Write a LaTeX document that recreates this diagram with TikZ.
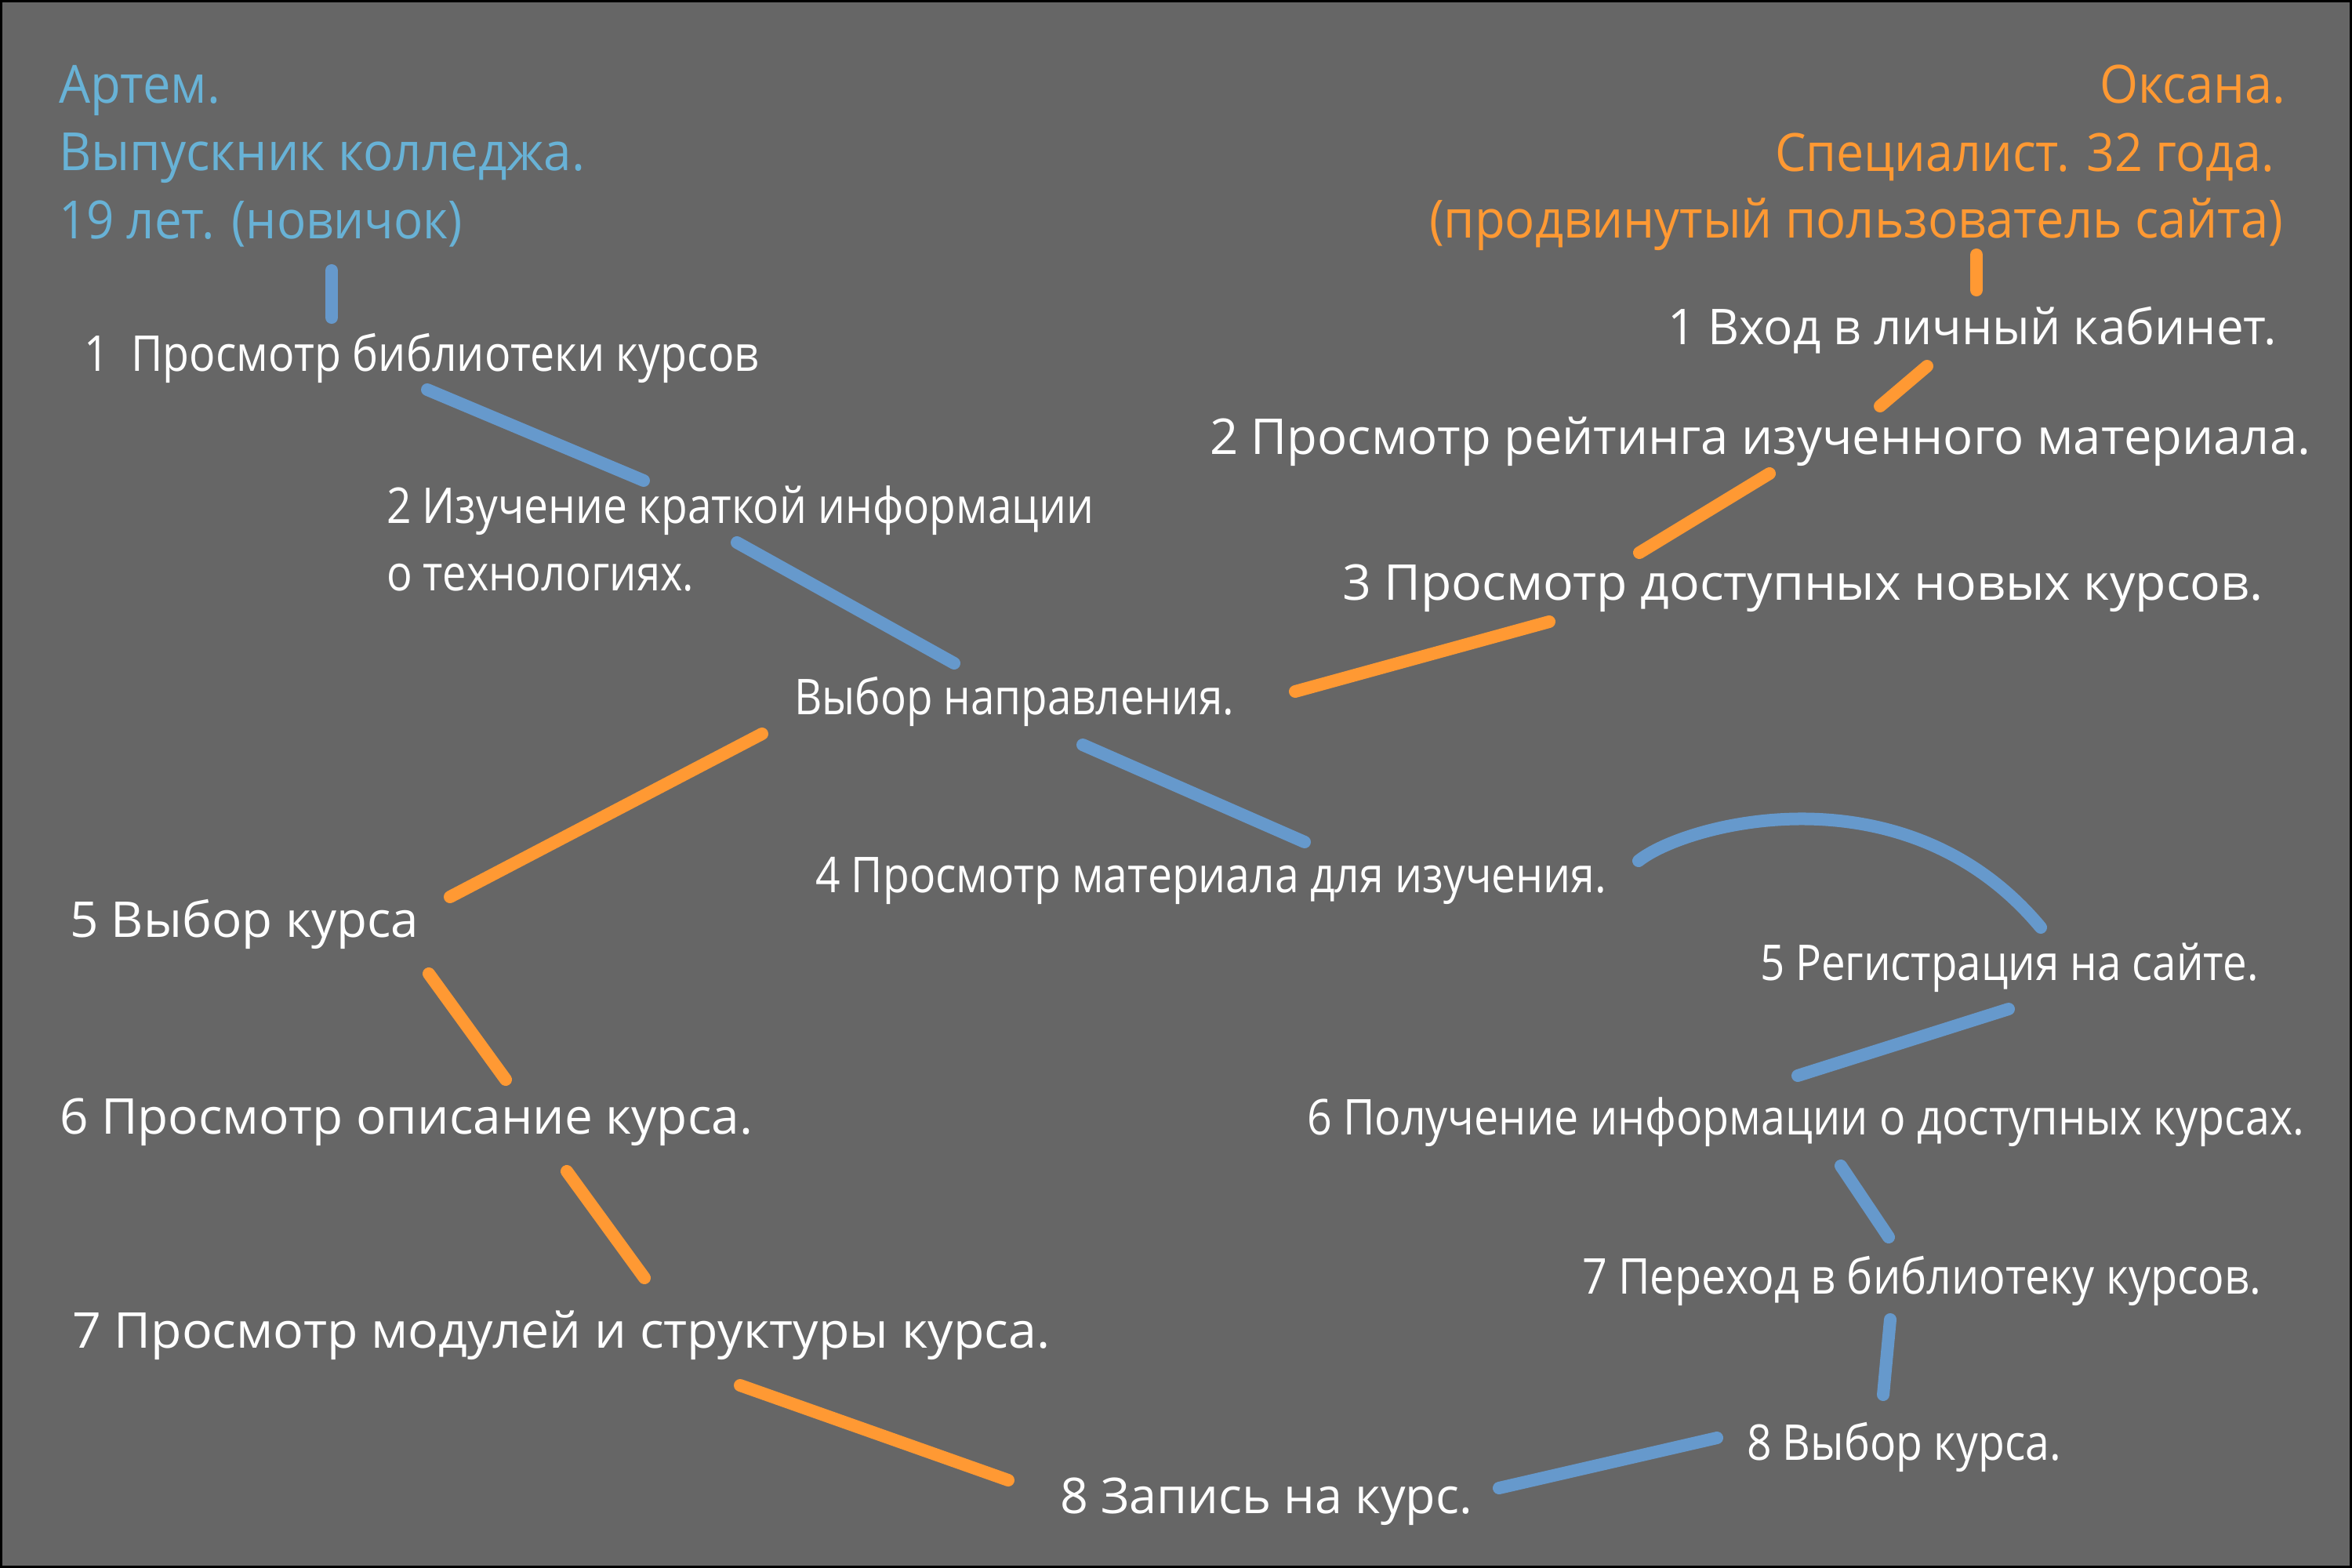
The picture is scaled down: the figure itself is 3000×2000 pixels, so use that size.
\documentclass[tikz,border=0pt]{standalone}
\usepackage{fontspec}
\usepackage{graphicx}
\setmainfont{Open Sans}
\definecolor{bgc}{HTML}{666666}
\definecolor{lblue}{HTML}{6699CC}
\definecolor{lorange}{HTML}{FF9933}
\definecolor{hblue}{RGB}{104,178,214}
\definecolor{horange}{HTML}{FF9933}
\newcommand\fitto[2]{\resizebox{\dimexpr0.01cm*#1\relax}{\height}{#2}}
\tikzset{
  txt/.style={anchor=base west, inner sep=0pt, outer sep=0pt, text=white, font=\fontsize{17.9}{21}\selectfont},
  hdb/.style={anchor=base west, inner sep=0pt, outer sep=0pt, text=hblue, font=\fontsize{19.1}{23}\selectfont},
  hdo/.style={anchor=base west, inner sep=0pt, outer sep=0pt, text=horange, font=\fontsize{19.1}{23}\selectfont},
  bl/.style={draw=lblue, line width=0.16cm, line cap=round},
  orl/.style={draw=lorange, line width=0.16cm, line cap=round}
}
\begin{document}
\begin{tikzpicture}[x=0.01cm,y=-0.01cm]
\useasboundingbox (0,0) rectangle (3000,2000);
\fill[bgc] (0,0) rectangle (3000,2000);
\draw[black, line width=0.03cm] (1.5,1.5) rectangle (2998.5,1998.5);

% headings
\node[hdb] (A1) at (75,132) {\fitto{206}{Артем.}};
\node[hdb] (A2) at (75,218) {\fitto{671}{Выпускник колледжа.}};
\node[hdb] (A3) at (75,304) {\fitto{515}{19 лет. (новичок)}};
\node[hdo] (K1) at (2678,132) {\fitto{237}{Оксана.}};
\node[hdo] (K2) at (2264,218) {\fitto{637}{Специалист. 32 года.}};
\node[hdo] (K3) at (1823,304) {\fitto{1089}{(продвинутый пользователь сайта)}};

% white step texts
\node[txt] (L1) at (107,473) {\fitto{861}{1\ \ Просмотр библиотеки курсов}};
\node[txt] (L2a) at (493,667) {\fitto{902}{2 Изучение краткой информации}};
\node[txt] (L2b) at (493,753) {\fitto{392}{о технологиях.}};
\node[txt] (C) at (1013,911) {\fitto{561}{Выбор направления.}};
\node[txt] (L4) at (1040,1138) {\fitto{1009}{4 Просмотр материала для изучения.}};
\node[txt] (L5) at (89,1195) {\fitto{445}{5 Выбор курса}};
\node[txt] (L6) at (76,1446) {\fitto{884}{6 Просмотр описание курса.}};
\node[txt] (L7) at (92,1719) {\fitto{1247}{7 Просмотр модулей и структуры курса.}};
\node[txt] (L8) at (1352,1930) {\fitto{526}{8 Запись на курс.}};
\node[txt] (R1) at (2127,439) {\fitto{777}{1 Вход в личный кабинет.}};
\node[txt] (R2) at (1543,579) {\fitto{1404}{2 Просмотр рейтинга изученного материала.}};
\node[txt] (R3) at (1712,765) {\fitto{1174}{3 Просмотр доступных новых курсов.}};
\node[txt] (R5) at (2245,1250) {\fitto{636}{5 Регистрация на сайте.}};
\node[txt] (R6) at (1667,1447) {\fitto{1272}{6 Получение информации о доступных курсах.}};
\node[txt] (R7) at (2018,1650) {\fitto{866}{7 Переход в библиотеку курсов.}};
\node[txt] (R8) at (2228,1862) {\fitto{401}{8 Выбор курса.}};

% blue path (Артем)
\draw[bl] ([shift={(348,41)}]A3.base west) -- ([shift={(316,-68)}]L1.base west);
\draw[bl] ([shift={(438,24)}]L1.base west) -- ([shift={(328,-54)}]L2a.base west);
\draw[bl] ([shift={(447,-61)}]L2b.base west) -- ([shift={(204,-65)}]C.base west);
\draw[bl] ([shift={(368,39)}]C.base west) -- ([shift={(624,-64)}]L4.base west);
\draw[bl] ([shift={(1050,-40)}]L4.base west) .. controls (2150,1050) and (2430,975) .. ([shift={(358,-67)}]R5.base west);
\draw[bl] ([shift={(317,37)}]R5.base west) -- ([shift={(626,-75)}]R6.base west);
\draw[bl] ([shift={(681,40)}]R6.base west) -- ([shift={(391,-72)}]R7.base west);
\draw[bl] ([shift={(393,33)}]R7.base west) -- ([shift={(174,-83)}]R8.base west);
\draw[bl] ([shift={(-38,-28)}]R8.base west) -- ([shift={(560,-32)}]L8.base west);

% orange path (Оксана)
\draw[orl] ([shift={(698,21)}]K3.base west) -- ([shift={(394,-69)}]R1.base west);
\draw[orl] ([shift={(331,28)}]R1.base west) -- ([shift={(855,-61)}]R2.base west);
\draw[orl] ([shift={(714,25)}]R2.base west) -- ([shift={(379,-60)}]R3.base west);
\draw[orl] ([shift={(264,28)}]R3.base west) -- ([shift={(639,-29)}]C.base west);
\draw[orl] ([shift={(-41,25)}]C.base west) -- ([shift={(485,-51)}]L5.base west);
\draw[orl] ([shift={(458,47)}]L5.base west) -- ([shift={(569,-69)}]L6.base west);
\draw[orl] ([shift={(647,48)}]L6.base west) -- ([shift={(730,-89)}]L7.base west);
\draw[orl] ([shift={(852,48)}]L7.base west) -- ([shift={(-66,-42)}]L8.base west);
\end{tikzpicture}
\end{document}
